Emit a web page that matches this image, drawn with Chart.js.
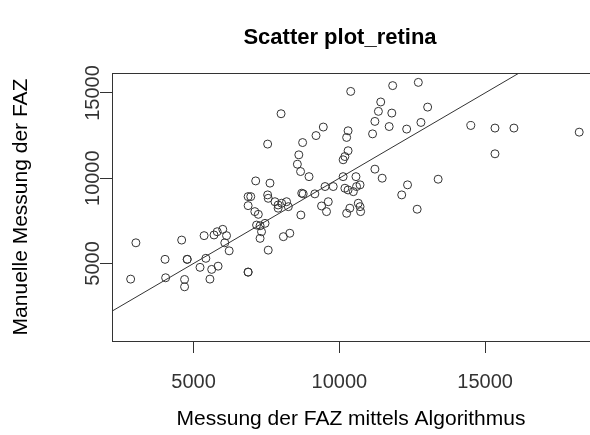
<!DOCTYPE html>
<html>
<head>
<meta charset="utf-8">
<script src="https://cdn.jsdelivr.net/npm/chart.js@4.4.1/dist/chart.umd.min.js"></script>
<style>
  html, body { margin: 0; padding: 0; background: #fff; }
</style>
</head>
<body>
<canvas id="myChart" width="590" height="435"></canvas>
<script>
var chartTitle = "Scatter plot_retina";
var xTitle = "Messung der FAZ mittels Algorithmus";
var yTitle = "Manuelle Messung der FAZ";

// algorithm measurement (x) vs manual measurement (y)
var xValues = [2840, 3020, 4020, 4040, 4590, 4780, 4780, 4690, 4690, 5220,
    5420, 5360, 5620, 5560, 5840, 5700, 5810, 6000, 6130, 6070,
    6220, 6870, 6870, 7130, 6870, 6960, 6870, 7100, 7220, 7160,
    7280, 7450, 7330, 7280, 7560, 7540, 7620, 7540, 7560, 7790,
    7900, 8020, 8190, 8250, 7900, 8080, 8300, 8000, 8710, 8760,
    8680, 8670, 8960, 9160, 9510, 9790, 10130, 10570, 10190, 10300,
    10480, 10590, 10710, 9620, 9390, 9560, 10360, 10250, 10650, 10710,
    10730, 10390, 9450, 9200, 8740, 10300, 10250, 8610, 8560, 10300,
    10190, 10130, 11830, 12710, 11420, 11340, 11800, 13030, 11220, 11710,
    12310, 12800, 11140, 11220, 11470, 13390, 12340, 12140, 12670, 14510,
    15340, 15990, 18230, 15340];
var yValues = [4080, 6210, 5240, 4160, 6370, 5240, 5240, 4060, 3630, 4770,
    5300, 6630, 4650, 4080, 4840, 6670, 6860, 7000, 6630, 6210,
    5740, 4490, 4490, 9840, 8920, 8920, 8390, 8040, 7880, 7250,
    7210, 7350, 6860, 6470, 5780, 12000, 9710, 9020, 8820, 8620,
    8430, 8530, 8620, 8330, 8240, 6570, 6770, 13780, 9120, 9080,
    7840, 10390, 10090, 9080, 9510, 9510, 10090, 10090, 9410, 9310,
    9210, 9510, 9610, 8620, 8370, 8040, 8240, 7940, 8530, 8330,
    8040, 15090, 13000, 12500, 12090, 12780, 12390, 11370, 10820, 11610,
    11270, 11080, 15430, 15620, 14470, 13920, 13820, 14170, 13330, 13030,
    12880, 13270, 12600, 10530, 10000, 9940, 9610, 9020, 8180, 13090,
    12940, 12940, 12700, 11430];
var xTicks = [5000, 10000, 15000];
var yTicks = [5000, 10000, 15000];
var xRange = [2200, 18600];
var yRange = [450, 16170];

var points = xValues.map(function (x, i) { return { x: x, y: yValues[i] }; });
// line y = x
var idLine = [{ x: xRange[0], y: xRange[0] }, { x: xRange[1], y: xRange[1] }];

var ink = '#333333';
var fontName = '"Liberation Sans", Arial, sans-serif';

var framePlugin = {
    id: 'frame',
    afterDraw: function (chart) {
        var ctx = chart.ctx;
        var a = chart.chartArea;
        var ys = chart.scales.y;
        ctx.save();
        // top edge of the box (right edge is cut off in the original)
        ctx.strokeStyle = ink;
        ctx.lineWidth = 1;
        ctx.beginPath();
        ctx.moveTo(a.left, Math.round(a.top) + 0.5);
        ctx.lineTo(a.right, Math.round(a.top) + 0.5);
        ctx.stroke();
        // rotated y tick labels
        ctx.fillStyle = ink;
        ctx.font = '20px ' + fontName;
        ctx.textAlign = 'center';
        ctx.textBaseline = 'middle';
        yTicks.forEach(function (v) {
            var py = ys.getPixelForValue(v);
            ctx.save();
            ctx.translate(a.left - 19, py);
            ctx.rotate(-Math.PI / 2);
            ctx.fillText(String(v), 0, 0);
            ctx.restore();
        });
        // main title
        ctx.fillStyle = '#000';
        ctx.font = 'bold 22px ' + fontName;
        ctx.fillText(chartTitle, 340, 38);
        ctx.restore();
    }
};

new Chart("myChart", {
    data: {
        datasets: [{
            type: 'scatter',
            data: points,
            pointStyle: 'circle',
            pointRadius: 4,
            pointBorderWidth: 1,
            pointBorderColor: ink,
            pointBackgroundColor: 'rgba(0,0,0,0)'
        }, {
            type: 'line',
            data: idLine,
            borderColor: ink,
            borderWidth: 1,
            pointRadius: 0,
            fill: false
        }]
    },
    options: {
        responsive: false,
        animation: false,
        layout: { autoPadding: false, padding: { top: 73, left: 0, right: 0, bottom: 0 } },
        plugins: {
            legend: { display: false },
            tooltip: { enabled: false },
            title: { display: false }
        },
        scales: {
            x: {
                type: 'linear',
                position: 'bottom',
                min: xRange[0],
                max: xRange[1],
                afterBuildTicks: function (axis) {
                    axis.ticks = xTicks.map(function (v) { return { value: v }; });
                },
                afterFit: function (axis) {
                    axis.height = 94;
                    axis.paddingLeft = 0;
                    axis.paddingRight = 0;
                },
                ticks: {
                    color: ink,
                    font: { family: fontName, size: 20 },
                    padding: 17,
                    maxRotation: 0,
                    callback: function (v) { return String(v); }
                },
                grid: { drawOnChartArea: false, drawTicks: true, tickLength: 12, color: ink },
                border: { display: true, color: ink, width: 1 },
                title: {
                    display: true,
                    text: xTitle,
                    color: '#000',
                    font: { family: fontName, size: 21 },
                    padding: { top: 0, bottom: 3 }
                }
            },
            y: {
                type: 'linear',
                position: 'left',
                min: yRange[0],
                max: yRange[1],
                afterBuildTicks: function (axis) {
                    axis.ticks = yTicks.map(function (v) { return { value: v }; });
                },
                afterFit: function (axis) {
                    axis.width = 112;
                    axis.paddingTop = 0;
                    axis.paddingBottom = 0;
                },
                ticks: { display: false },
                grid: { drawOnChartArea: false, drawTicks: true, tickLength: 12, color: ink },
                border: { display: true, color: ink, width: 1 },
                title: {
                    display: true,
                    text: yTitle,
                    color: '#000',
                    font: { family: fontName, size: 21 },
                    padding: { top: 9, bottom: 0 }
                }
            }
        }
    },
    plugins: [framePlugin]
});
</script>
</body>
</html>
